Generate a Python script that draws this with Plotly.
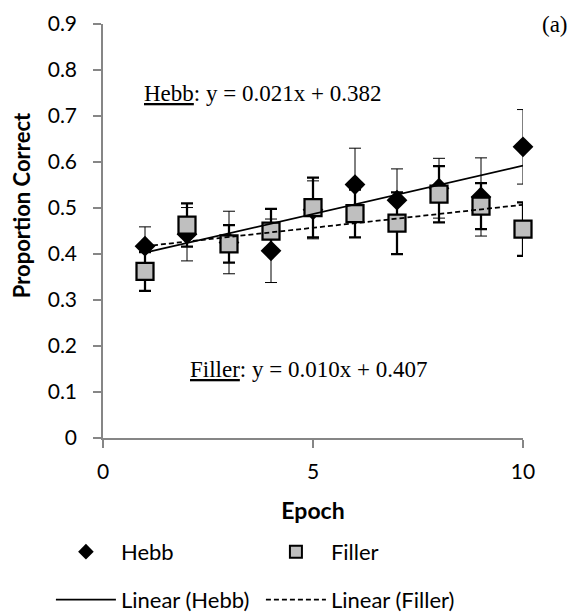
import plotly.graph_objects as go

# ---- data ----
epochs = [1, 2, 3, 4, 5, 6, 7, 8, 9, 10]
hebb = [0.417, 0.443, 0.425, 0.407, 0.496, 0.551, 0.517, 0.543, 0.524, 0.633]
hebb_err = [0.042, 0.058, 0.068, 0.069, 0.063, 0.079, 0.068, 0.065, 0.085, 0.081]
filler = [0.362, 0.463, 0.422, 0.450, 0.501, 0.488, 0.467, 0.530, 0.504, 0.454]
filler_err = [0.042, 0.047, 0.041, 0.048, 0.065, 0.052, 0.067, 0.061, 0.050, 0.058]

# trendline coefficients as printed on the chart
hebb_slope, hebb_intercept = 0.021, 0.382
filler_slope, filler_intercept = 0.010, 0.407

x_ticks = [0, 5, 10]
y_ticks = [0, 0.1, 0.2, 0.3, 0.4, 0.5, 0.6, 0.7, 0.8, 0.9]
y_tick_labels = ["0", "0.1", "0.2", "0.3", "0.4", "0.5", "0.6", "0.7", "0.8", "0.9"]

SANS = "Lato, 'Open Sans', sans-serif"
SERIF = "'Liberation Serif', 'DejaVu Serif', serif"
AXIS_GREY = "#868686"

trend_x = [min(epochs), max(epochs)]
hebb_trend = [hebb_slope * x + hebb_intercept for x in trend_x]
filler_trend = [filler_slope * x + filler_intercept for x in trend_x]

fig = go.Figure()

fig.add_trace(go.Scatter(
    x=epochs, y=hebb, mode="markers", name="Hebb",
    marker=dict(symbol="diamond", size=16, color="black",
                line=dict(color="black", width=0)),
    error_y=dict(type="data", array=hebb_err, visible=True,
                 color="black", thickness=1, width=6),
    cliponaxis=False, legend="legend",
))
fig.add_trace(go.Scatter(
    x=epochs, y=filler, mode="markers", name="Filler",
    marker=dict(symbol="square", size=17, color="#BFBFBF",
                line=dict(color="black", width=2.25)),
    error_y=dict(type="data", array=filler_err, visible=True,
                 color="black", thickness=2.25, width=6),
    cliponaxis=False, legend="legend",
))
fig.add_trace(go.Scatter(
    x=trend_x, y=hebb_trend, mode="lines", name="Linear (Hebb)",
    line=dict(color="black", width=1.75), legend="legend2",
))
fig.add_trace(go.Scatter(
    x=trend_x, y=filler_trend, mode="lines", name="Linear (Filler)",
    line=dict(color="black", width=1.75, dash="5px,3px"), legend="legend2",
))

# margins compensate the page's 8px body offset
fig.update_layout(
    width=576, height=615,
    margin=dict(l=95, r=61, t=16, b=185, autoexpand=False),
    paper_bgcolor="white", plot_bgcolor="white",
    font=dict(family=SANS, size=21, color="black"),
    xaxis=dict(
        range=[0, 10], tickvals=x_ticks, showgrid=False, zeroline=False,
        showline=True, linecolor=AXIS_GREY, linewidth=1.5,
        ticks="outside", ticklen=8, tickwidth=1.5, tickcolor=AXIS_GREY,
        ticklabelstandoff=6,
        title=dict(text="<b>Epoch</b>", font=dict(size=23), standoff=21),
    ),
    yaxis=dict(
        range=[0, 0.9], tickvals=y_ticks, ticktext=y_tick_labels,
        showgrid=False, zeroline=False,
        showline=True, linecolor=AXIS_GREY, linewidth=1.5,
        ticks="outside", ticklen=8, tickwidth=1.5, tickcolor=AXIS_GREY,
        ticklabelstandoff=12,
    ),
    legend=dict(
        orientation="h", x=-0.124, xanchor="left", y=-0.275, yanchor="middle",
        entrywidth=135, entrywidthmode="pixels", itemwidth=60,
        itemsizing="constant", font=dict(family=SANS, size=22),
        bgcolor="rgba(0,0,0,0)",
    ),
    legend2=dict(
        orientation="h", x=-0.124, xanchor="left", y=-0.391, yanchor="middle",
        entrywidth=135, entrywidthmode="pixels", itemwidth=60,
        font=dict(family=SANS, size=22),
        bgcolor="rgba(0,0,0,0)",
    ),
    showlegend=True,
)

annotations = [
    dict(text="<b>Proportion Correct</b>", textangle=-90,
         xref="paper", yref="paper", x=-0.192, y=0.563,
         xanchor="center", yanchor="middle", showarrow=False,
         font=dict(family=SANS, size=22)),
    dict(text=f"<u>Hebb</u>: y = {hebb_slope:.3f}x + {hebb_intercept:.3f}",
         xref="x", yref="y", x=0.92, y=0.748, xanchor="left", yanchor="middle",
         showarrow=False, font=dict(family=SERIF, size=23)),
    dict(text=f"<u>Filler</u>: y = {filler_slope:.3f}x + {filler_intercept:.3f}",
         xref="x", yref="y", x=2.02, y=0.15, xanchor="left", yanchor="middle",
         showarrow=False, font=dict(family=SERIF, size=23)),
    dict(text="(a)", xref="paper", yref="paper", x=1.112, y=1.0,
         xanchor="right", yanchor="middle", showarrow=False,
         font=dict(family=SERIF, size=23)),
]
fig.update_layout(annotations=annotations)

fig.write_html("out.html")
